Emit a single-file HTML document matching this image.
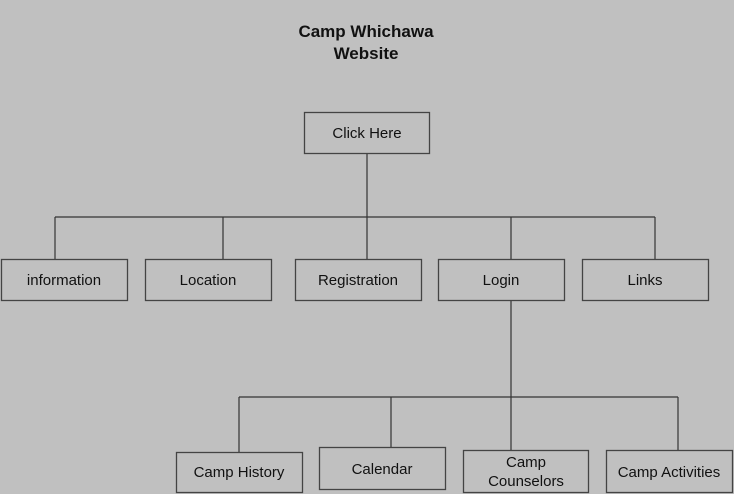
<!DOCTYPE html>
<html><head><meta charset="utf-8"><style>
html,body{margin:0;padding:0;background:#c0c0c0;}
svg{display:block;}
text{font-family:"Liberation Sans",Arial,sans-serif;fill:#111;}
</style></head><body>
<svg width="734" height="494" viewBox="0 0 734 494" xmlns="http://www.w3.org/2000/svg">
<rect width="734" height="494" fill="#c0c0c0"/>
<text x="366" y="37" font-size="17" font-weight="bold" text-anchor="middle">Camp Whichawa</text>
<text x="366" y="59" font-size="17" font-weight="bold" text-anchor="middle">Website</text>
<g stroke="#333" stroke-width="1.2" fill="none">
<line x1="367" y1="154" x2="367" y2="217"/>
<line x1="55" y1="217" x2="655" y2="217"/>
<line x1="55" y1="217" x2="55" y2="259"/>
<line x1="223" y1="217" x2="223" y2="259"/>
<line x1="367" y1="217" x2="367" y2="259"/>
<line x1="511" y1="217" x2="511" y2="259"/>
<line x1="655" y1="217" x2="655" y2="259"/>
<line x1="511" y1="301" x2="511" y2="450"/>
<line x1="239" y1="397" x2="678" y2="397"/>
<line x1="239" y1="397" x2="239" y2="452"/>
<line x1="391" y1="397" x2="391" y2="447"/>
<line x1="678" y1="397" x2="678" y2="450"/>
</g>
<g stroke="#444" stroke-width="1.3" fill="#c0c0c0">
<rect x="304.5" y="112.5" width="125" height="41"/>
<rect x="1.5" y="259.5" width="126" height="41"/>
<rect x="145.5" y="259.5" width="126" height="41"/>
<rect x="295.5" y="259.5" width="126" height="41"/>
<rect x="438.5" y="259.5" width="126" height="41"/>
<rect x="582.5" y="259.5" width="126" height="41"/>
<rect x="176.5" y="452.5" width="126" height="40"/>
<rect x="319.5" y="447.5" width="126" height="42"/>
<rect x="463.5" y="450.5" width="125" height="42"/>
<rect x="606.5" y="450.5" width="126" height="42"/>
</g>
<g font-size="15" text-anchor="middle">
<text x="367" y="138">Click Here</text>
<text x="64" y="285">information</text>
<text x="208" y="285">Location</text>
<text x="358" y="285">Registration</text>
<text x="501" y="285">Login</text>
<text x="645" y="285">Links</text>
<text x="239" y="477">Camp History</text>
<text x="382" y="474">Calendar</text>
<text x="526" y="467">Camp</text>
<text x="526" y="486">Counselors</text>
<text x="669" y="477">Camp Activities</text>
</g>
</svg>
</body></html>
